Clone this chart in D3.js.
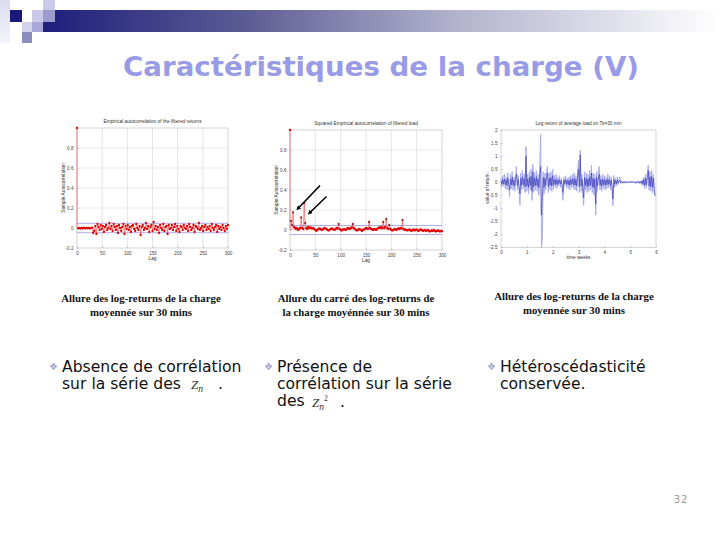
<!DOCTYPE html>
<html>
<head>
<meta charset="utf-8">
<script src="https://cdnjs.cloudflare.com/ajax/libs/d3/7.8.5/d3.min.js"></script>
<style>
  body { margin: 0; background: #fff; }
  svg { display: block; }
</style>
</head>
<body>
<svg id="slide" width="720" height="540"></svg>
<script>
// ---- data ----
const lagTicks = [0, 50, 100, 150, 200, 250, 300];
const acfTicks = [-0.2, 0, 0.2, 0.4, 0.6, 0.8];
const weekTicks = [0, 1, 2, 3, 4, 5, 6];
const retTicks = [-2.5, -2, -1.5, -1, -0.5, 0, 0.5, 1, 1.5, 2];

// autocorrelation of filtered returns, lags 2..300 step 2 (lag 0 = 1)
const acfReturns = [-.004,.002,-.005,.001,-.006,.003,-.002,-.004,.002,-.003,.001,-.005,-.002,.003,
  -.05,-.03,.02,-.06,.04,.01,-.02,.03,-.01,.02,-.04,.01,.03,-.02,.00,.05,-.01,.02,-.03,.04,.01,-.02,
  .02,-.05,.03,.00,-.03,.01,.04,-.06,.02,-.01,.03,-.02,.01,-.04,.02,.03,-.01,-.03,.04,.00,-.02,.02,
  -.07,.01,.03,-.02,.00,.05,-.01,.02,-.04,.01,.03,-.03,.06,-.01,.02,-.02,.01,-.05,.03,.00,-.02,.04,
  -.03,.01,.02,-.06,.03,-.01,.00,.03,-.02,.01,.04,-.03,.02,-.01,-.04,.02,.01,-.02,.03,.00,-.01,.02,
  -.03,.04,.01,-.02,.00,.03,-.04,.02,.01,-.01,.05,-.02,.00,.02,-.03,.01,.03,-.02,.01,-.01,.02,-.03,
  .04,.00,-.02,.01,.03,-.04,.02,-.01,.01,-.02,.03,.00,-.03,.02,-.01,.03];

// squared autocorrelation of filtered load, lags 2..300 step 2
const acfSquared = [.09,.05,.176,.03,.02,.01,.02,.00,.01,.02,.126,.02,.01,.27,.07,.02,.01,.03,.02,.025,
  .02,.015,.02,.01,.00,-.01,.00,.01,.015,.01,.00,.005,.01,.02,.015,.01,.00,-.005,.00,.01,
  .015,.01,.005,.00,.01,.02,.015,.06,.01,.00,-.005,.00,.01,.005,.00,.01,.02,.015,.01,.02,
  .025,.06,.02,.01,.00,-.005,.00,.01,.005,.00,-.01,.00,.005,.01,.02,.015,.01,.08,.02,.01,
  .005,.00,.01,.005,.00,.01,.02,.025,.02,.03,.02,.08,.02,.03,.11,.02,.01,.05,.01,.00,
  -.005,.00,.01,.005,.00,.01,.015,.01,.02,.015,.10,.01,.00,.005,.00,-.005,.00,.005,-.005,-.01,
  .00,.005,-.005,.00,.005,-.005,-.01,.00,.005,.00,-.01,-.005,.00,-.01,-.005,.00,-.01,-.015,-.01,-.005,
  -.01,.00,-.01,-.015,-.01,-.005,-.01,-.015,-.01,-.012];

const confReturns = 0.047;
const confSquared = 0.045;

// log return of average load (Ts = 30 min), 30 samples per week, 6 weeks
const returnsLight = [.15,-.2,.25,-.15,.3,-.25,.2,-.3,.35,-.2,-.55,.3,-.25,.4,-.3,.2,-.35,.3,.6,-.3,
  .25,-.4,-.88,.35,-.3,.45,-.25,.3,-.4,1.36,
  -.35,.3,-.45,.4,-.3,.5,-.7,.68,-.4,.35,-.3,.45,-.35,.3,-.5,.55,1.83,-2.5,-2.16,.4,
  -.45,.35,-.3,.45,.6,-.4,.35,-.3,.4,-.35,
  .5,-.3,.25,-.2,.3,-.25,.2,-.15,.25,-.2,.15,-.25,-.7,.2,-.15,.25,-.2,.15,-.25,.2,
  -.3,.25,-.2,.3,-.25,.35,-.3,.25,-.35,.4,
  .85,-.4,1.23,-.35,.3,-.45,-.9,.4,-.3,.35,-.4,.3,-.35,.45,-.3,.65,-.4,.35,-.5,.3,
  -1.27,.4,-.35,.3,.6,-.3,.25,-.35,.3,-.25,
  .25,-.3,.2,-.25,.3,-.2,.25,-.3,.2,-.35,-.9,.25,-.2,.15,-.15,.2,-.1,.1,.2,-.05,
  .05,-.04,.03,-.05,.04,-.03,.02,-.04,.03,-.02,
  .02,-.03,.04,-.02,.03,-.04,.02,-.05,.03,-.04,.05,-.06,.04,-.08,.1,-.15,.2,-.25,.3,-.2,
  .35,.65,-.3,.4,-.35,.45,-.4,.3,-.45,-.5];
const returnsDark = [.05,-.08,.1,-.06,.12,-.1,.08,-.12,.15,-.08,-.3,.12,-.1,.18,-.12,.08,-.15,.12,.3,-.12,
  .1,-.18,-.45,.15,-.12,.2,-.1,.12,-.18,1.0,
  -.15,.12,-.2,.18,-.12,.22,-.35,.4,-.18,.15,-.12,.2,-.15,.12,-.22,.25,.6,-1.27,-.6,.18,
  -.2,.15,-.12,.2,.35,-.18,.15,-.12,.18,-.15,
  .25,-.12,.1,-.08,.12,-.1,.08,-.06,.1,-.08,.06,-.1,-.4,.08,-.06,.1,-.08,.06,-.1,.08,
  -.12,.1,-.08,.12,-.1,.15,-.12,.1,-.15,.18,
  .5,-.18,1.04,-.15,.12,-.2,-.6,.18,-.12,.15,-.18,.12,-.15,.2,-.12,.35,-.18,.15,-.22,.12,
  -.85,.18,-.15,.12,.3,-.12,.1,-.15,.12,-.1,
  .1,-.12,.08,-.1,.12,-.08,.1,-.12,.08,-.15,-.65,.1,-.08,.06,-.06,.08,-.04,.04,.08,-.02,
  .02,-.02,.01,-.02,.02,-.01,.01,-.02,.01,-.01,
  .01,-.01,.02,-.01,.01,-.02,.01,-.02,.01,-.02,.02,-.03,.02,-.04,.05,-.08,.1,-.12,.15,-.1,
  .18,.45,-.15,.2,-.18,.22,-.2,.15,-.25,-.54];

const captions = [
  ['Allure des log-returns de la charge', 'moyennée sur 30 mins'],
  ['Allure du carré des log-returns de', 'la charge moyénnée sur 30 mins'],
  ['Allure des log-returns de la charge', 'moyennée sur 30 mins']
];

const svg = d3.select('#slide');
const AXIS_FONT = 'Liberation Sans, Arial, sans-serif';

// ---- slide header ----
const defs = svg.append('defs');
const grad = defs.append('linearGradient').attr('id', 'barGrad');
grad.append('stop').attr('offset', '0%').attr('stop-color', '#1e1e7c');
grad.append('stop').attr('offset', '30%').attr('stop-color', '#5c5c94');
grad.append('stop').attr('offset', '60%').attr('stop-color', '#b0b0cc');
grad.append('stop').attr('offset', '100%').attr('stop-color', '#ffffff');
const fade = defs.append('linearGradient').attr('id', 'stripGrad')
  .attr('x1', 0).attr('y1', 0).attr('x2', 0).attr('y2', 1);
fade.append('stop').attr('offset', '0%').attr('stop-color', '#dcdcf0');
fade.append('stop').attr('offset', '100%').attr('stop-color', '#f4f4fb');

svg.append('rect').attr('x', 43).attr('y', 10).attr('width', 677).attr('height', 22).attr('fill', 'url(#barGrad)');
const squares = [
  [0, 0, 10, 43, 'url(#stripGrad)'],
  [10, 10, 12, 12, '#1a1a7a'],
  [32, 10, 11, 12, '#cacae8'],
  [43, 0, 12, 10, '#cacae8'],
  [43, 10, 12, 12, '#9c9cce'],
  [22, 22, 10, 10, '#d2d2ec'],
  [32, 22, 11, 10, '#a8a8d8'],
  [22, 32, 10, 11, '#8c8cbe']
];
svg.selectAll('rect.sq').data(squares).enter().append('rect').attr('class', 'sq')
  .attr('x', d => d[0]).attr('y', d => d[1]).attr('width', d => d[2]).attr('height', d => d[3])
  .attr('fill', d => d[4]);

svg.append('text').attr('x', 381).attr('y', 76).attr('text-anchor', 'middle')
  .attr('font-family', 'DejaVu Sans, Verdana, sans-serif').attr('font-weight', 'bold')
  .attr('font-size', 26).attr('fill', '#9a9be6')
  .attr('textLength', 516).attr('lengthAdjust', 'spacingAndGlyphs')
  .text('Caractéristiques de la charge (V)');

// ---- panel helpers ----
function styleAxis(sel) {
  sel.select('.domain').remove();
  sel.selectAll('.tick line').attr('stroke', '#666').attr('stroke-width', 0.4);
  sel.selectAll('.tick text').attr('font-family', AXIS_FONT).attr('font-size', 4.6).attr('fill', '#444');
}

function frame(o, x, y, xTicks, yTicks, grid) {
  const g = svg.append('g');
  if (grid) {
    g.selectAll('line.vg').data(xTicks.slice(1, -1)).enter().append('line')
      .attr('x1', d => x(d)).attr('x2', d => x(d)).attr('y1', o.top).attr('y2', o.bottom)
      .attr('stroke', '#dedede').attr('stroke-width', 0.8);
    g.selectAll('line.hg').data(yTicks.slice(1)).enter().append('line')
      .attr('y1', d => y(d)).attr('y2', d => y(d)).attr('x1', o.left).attr('x2', o.right)
      .attr('stroke', '#e4e4e4').attr('stroke-width', 0.8);
  }
  g.append('g').attr('transform', `translate(0,${o.bottom})`)
    .call(d3.axisBottom(x).tickValues(xTicks).tickSize(-1.5).tickPadding(3.5).tickFormat(d3.format('')))
    .call(styleAxis);
  g.append('g').attr('transform', `translate(${o.left},0)`)
    .call(d3.axisLeft(y).tickValues(yTicks).tickSize(-1.5).tickPadding(3.5).tickFormat(d => String(d)))
    .call(styleAxis);
  g.append('rect').attr('x', o.left).attr('y', o.top).attr('width', o.right - o.left)
    .attr('height', o.bottom - o.top).attr('fill', 'none').attr('stroke', '#b8b8b8').attr('stroke-width', 0.6);

  const cx = (o.left + o.right) / 2;
  svg.append('text').attr('x', cx).attr('y', o.top - 5).attr('text-anchor', 'middle')
    .attr('font-family', AXIS_FONT).attr('font-size', 4.8).attr('fill', '#333').text(o.title);
  svg.append('text').attr('x', cx).attr('y', o.bottom + 12).attr('text-anchor', 'middle')
    .attr('font-family', AXIS_FONT).attr('font-size', 4.8).attr('fill', '#333').text(o.xLabel);
  svg.append('text').attr('transform', `translate(${o.left - 12},${(o.top + o.bottom) / 2}) rotate(-90)`)
    .attr('text-anchor', 'middle').attr('font-family', AXIS_FONT).attr('font-size', 4.8)
    .attr('fill', '#333').text(o.yLabel);
}

function acfPanel(o, values, conf, spikeMin) {
  const x = d3.scaleLinear().domain([0, 300]).range([o.left, o.right]);
  const y = d3.scaleLinear().domain([-0.2, 1]).range([o.bottom, o.top]);
  frame(o, x, y, lagTicks, acfTicks, true);
  const pts = [{ lag: 0, v: 1 }].concat(values.map((v, i) => ({ lag: (i + 1) * 300 / values.length, v })));
  const g = svg.append('g');
  g.selectAll('line.stem').data(pts).enter().append('line')
    .attr('x1', d => x(d.lag)).attr('x2', d => x(d.lag)).attr('y1', y(0)).attr('y2', d => y(d.v))
    .attr('stroke', '#f2a4ac').attr('stroke-width', d => d.lag === 0 ? 1.6 : 0.8);
  g.selectAll('line.conf').data([conf, -conf]).enter().append('line')
    .attr('x1', o.left).attr('x2', o.right).attr('y1', d => y(d)).attr('y2', d => y(d))
    .attr('stroke', '#8c8ce0').attr('stroke-width', 0.7);
  g.append('path').datum(pts.slice(1))
    .attr('d', d3.line().x(d => x(d.lag)).y(d => y(d.v)))
    .attr('fill', 'none').attr('stroke', '#e02020').attr('stroke-width', 0.6).attr('opacity', 0.6);
  g.selectAll('circle').data(pts).enter().append('circle')
    .attr('cx', d => x(d.lag)).attr('cy', d => y(d.v)).attr('r', 1.15)
    .attr('fill', d => d.v >= spikeMin && d.lag > 0 ? '#a02828' : '#e00000');
}

// ---- panel 1 ----
acfPanel({ left: 77, right: 228, top: 128, bottom: 248,
  title: 'Empirical autocorrelation of the filtered returns', xLabel: 'Lag', yLabel: 'Sample Autocorrelation' },
  acfReturns, confReturns, 2);

// ---- panel 2 ----
acfPanel({ left: 290, right: 442, top: 130, bottom: 250,
  title: 'Squared Empirical autocorrelation of filtered load', xLabel: 'Lag', yLabel: 'Sample Autocorrelation' },
  acfSquared, confSquared, 0.05);

// arrows pointing at the early peaks
const arrows = [[320, 185.5, 298, 208.5], [326.5, 196.5, 309.5, 213]];
defs.append('marker').attr('id', 'head').attr('viewBox', '0 -5 10 10').attr('refX', 5).attr('refY', 0)
  .attr('markerWidth', 3).attr('markerHeight', 3).attr('orient', 'auto')
  .append('path').attr('d', 'M0,-5L10,0L0,5Z').attr('fill', '#000');
svg.selectAll('line.arrow').data(arrows).enter().append('line')
  .attr('x1', d => d[0]).attr('y1', d => d[1]).attr('x2', d => d[2]).attr('y2', d => d[3])
  .attr('stroke', '#000').attr('stroke-width', 1.6).attr('marker-end', 'url(#head)');

// ---- panel 3 ----
(function () {
  const o = { left: 501, right: 656, top: 130, bottom: 247.3,
    title: 'Log return of average load on  Ts=30 min', xLabel: 'time weeks', yLabel: 'value of return' };
  const x = d3.scaleLinear().domain([0, 6]).range([o.left, o.right]);
  const y = d3.scaleLinear().domain([-2.5, 2]).range([o.bottom, o.top]);
  frame(o, x, y, weekTicks, retTicks, false);
  const step = 6 / returnsLight.length;
  const line = d3.line().x((d, i) => x(i * step)).y(d => y(d));
  svg.append('path').datum(returnsLight).attr('d', line)
    .attr('fill', 'none').attr('stroke', '#a9adf0').attr('stroke-width', 1);
  svg.append('path').datum(returnsDark).attr('d', line)
    .attr('fill', 'none').attr('stroke', '#3434b4').attr('stroke-width', 0.6);
})();

// ---- captions ----
const capX = [141, 356, 574];
const capY = [302, 302, 300];
captions.forEach((c, i) => {
  const t = svg.append('text').attr('text-anchor', 'middle')
    .attr('font-family', 'Liberation Serif, Times New Roman, serif').attr('font-weight', 'bold')
    .attr('font-size', 10.8).attr('fill', '#111');
  c.forEach((line, j) => {
    t.append('tspan').attr('x', capX[i]).attr('y', capY[i] + j * 14).text(line);
  });
});

// ---- bullets ----
const BODY = 'DejaVu Sans, Verdana, sans-serif';
const bullets = [
  { x: 62, lines: ['Absence de corrélation', 'sur la série des'], z: { x: 191, y: 389, sup: false }, dot: 218 },
  { x: 277, lines: ['Présence de', 'corrélation sur la série', 'des'], z: { x: 312, y: 407, sup: true }, dot: 340 },
  { x: 500, lines: ['Hétéroscédasticité', 'conservée.'], z: null }
];
bullets.forEach(b => {
  svg.append('text').attr('x', b.x - 4).attr('y', 370).attr('text-anchor', 'end')
    .attr('font-family', BODY).attr('font-size', 10).attr('fill', '#a4a4cc').text('\u2756');
  const t = svg.append('text').attr('font-family', BODY).attr('font-size', 15.6).attr('fill', '#111');
  b.lines.forEach((l, j) => t.append('tspan').attr('x', b.x).attr('y', 372 + j * 17).text(l));
  if (b.z) {
    const z = svg.append('text').attr('x', b.z.x).attr('y', b.z.y)
      .attr('font-family', 'Liberation Serif, serif').attr('font-style', 'italic')
      .attr('font-size', 13).attr('fill', '#333').text('Z');
    z.append('tspan').attr('font-size', 9.5).attr('dy', 3).text('n');
    if (b.z.sup) {
      z.append('tspan').attr('font-size', 7.5).attr('font-style', 'normal').attr('dy', -9).text('2');
    }
    svg.append('text').attr('x', b.dot).attr('y', b.z.y).attr('font-family', BODY)
      .attr('font-size', 15.6).attr('fill', '#111').text('.');
  }
});

// ---- page number ----
svg.append('text').attr('x', 681).attr('y', 503).attr('text-anchor', 'middle')
  .attr('font-family', BODY).attr('font-size', 10).attr('letter-spacing', 1)
  .attr('fill', '#9a9a9a').text('32');
</script>
</body>
</html>
